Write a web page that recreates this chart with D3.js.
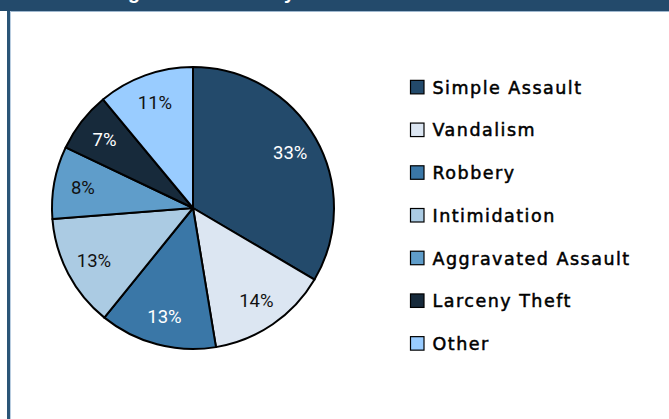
<!DOCTYPE html>
<html>
<head>
<meta charset="utf-8">
<script src="https://cdn.jsdelivr.net/npm/d3@7"></script>
<style>
html,body{margin:0;padding:0;background:#fff;}
svg{display:block;}
</style>
</head>
<body>
<svg id="chart" width="669" height="419"></svg>
<script>
const categories = ["Simple Assault","Vandalism","Robbery","Intimidation","Aggravated Assault","Larceny Theft","Other"];
const values = [33.4, 13.9, 13.4, 12.9, 8.3, 6.9, 11.0];
const colors = ["#234a6b","#dce6f2","#3a77a7","#abcbe3","#5f9dca","#172a3b","#99ccff"];
const labelColors = ["#fff","#111","#fff","#111","#111","#fff","#111"];
const title = "Percentage of Incidents by Offense";

const W = 669, H = 419;
const svg = d3.select("#chart");

// header bar
svg.append("rect").attr("x",0).attr("y",0).attr("width",W).attr("height",11).attr("fill","#234a6b");
svg.append("line").attr("x1",10).attr("x2",W).attr("y1",11.5).attr("y2",11.5).attr("stroke","#9fb8cf").attr("stroke-width",1);
const t = svg.append("text").attr("x",60).attr("y",-1.5)
  .attr("fill","#fff").attr("font-family","Liberation Sans, Arial, sans-serif")
  .attr("font-weight","bold").attr("font-size",17).text(title);
{
  const node = t.node();
  const ig = title.indexOf("g"), iy = title.indexOf("y");
  const dist = node.getSubStringLength(0, iy) - node.getSubStringLength(0, ig);
  const fs = 17 * 156 / dist;
  t.attr("font-size", fs);
  const off = node.getSubStringLength(0, ig);
  t.attr("x", 128 - off);
}
// left border
svg.append("rect").attr("x",7).attr("y",11).attr("width",3).attr("height",H-11).attr("fill","#2a5577");
svg.append("line").attr("x1",10.5).attr("x2",10.5).attr("y1",11).attr("y2",H).attr("stroke","#b9cde0").attr("stroke-width",1);

const cx = 193, cy = 208, R = 141;
const g = svg.append("g").attr("transform",`translate(${cx},${cy})`);
const pie = d3.pie().sort(null).value(d => d.v);
const data = pie(categories.map((c,i)=>({c, v:values[i], i})));
const arc = d3.arc().innerRadius(0).outerRadius(R);
const labelArc = d3.arc().innerRadius(112).outerRadius(112);
const total = d3.sum(values);

g.selectAll("path.slice").data(data).join("path")
  .attr("class","slice")
  .attr("d",arc)
  .attr("fill",d=>colors[d.data.i])
  .attr("stroke","#000").attr("stroke-width",2).attr("stroke-linejoin","round");

g.selectAll("text.pct").data(data).join("text")
  .attr("class","pct")
  .attr("transform",d=>`translate(${labelArc.centroid(d)})`)
  .attr("text-anchor","middle").attr("dy","0.35em")
  .attr("font-family","Roboto, sans-serif").attr("font-size",18.5)
  .attr("fill",d=>labelColors[d.data.i])
  .text(d=>Math.round(d.data.v/total*100)+"%");

// legend
const ly = d3.scaleBand().domain(categories).range([66,365]).paddingInner(0);
const lg = svg.append("g").selectAll("g").data(categories).join("g")
  .attr("transform",c=>`translate(410,${ly(c)+ly.bandwidth()/2})`);
lg.append("rect").attr("x",0.5).attr("y",-7).attr("width",13.5).attr("height",13.5)
  .attr("fill",(c,i)=>colors[i]).attr("stroke","#000").attr("stroke-width",1.2);
lg.append("text").attr("x",22.5).attr("dy","0.36em")
  .attr("font-family","DejaVu Sans, Verdana, sans-serif")
  .attr("font-size",17.5).attr("letter-spacing",1.5).attr("fill","#000")
  .attr("stroke","#000").attr("stroke-width",0.5)
  .text(c=>c);
</script>
</body>
</html>
